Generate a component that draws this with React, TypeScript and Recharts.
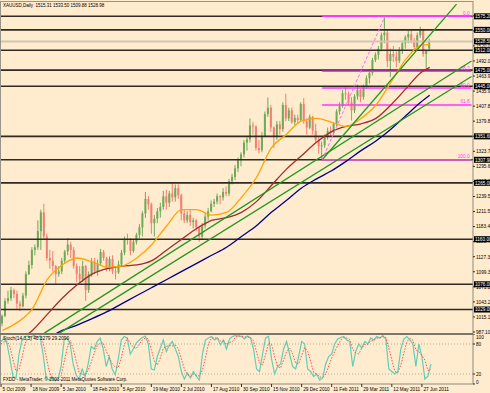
import React from 'react';
import { ComposedChart, Bar, Line, XAxis, YAxis, ReferenceLine } from 'recharts';

const candleOpen = [1003,1017,1045,1050,1065,1058,1040,1035,1055,1095,1112,1140,1145,1175,1210,1165,1125,1120,1110,1095,1100,1120,1137,1150,1140,1110,1095,1085,1110,1065,1095,1118,1100,1115,1136,1125,1105,1123,1100,1098,1113,1135,1160,1158,1138,1155,1168,1182,1208,1235,1225,1190,1198,1212,1220,1240,1228,1245,1238,1255,1242,1208,1195,1205,1192,1195,1182,1165,1185,1202,1212,1226,1230,1240,1238,1248,1245,1268,1276,1292,1308,1318,1340,1346,1372,1370,1330,1326,1352,1393,1405,1368,1350,1374,1365,1410,1385,1400,1378,1386,1382,1412,1380,1368,1388,1362,1345,1333,1335,1350,1362,1358,1375,1398,1408,1432,1430,1415,1400,1426,1438,1425,1445,1460,1470,1494,1504,1515,1540,1545,1492,1505,1500,1492,1512,1525,1536,1542,1530,1518,1540,1550,1505,1515.31];
const candleHigh = [1020,1050,1064,1071,1068,1064,1045,1060,1100,1120,1145,1150,1195,1215,1226,1170,1140,1138,1112,1110,1125,1140,1162,1155,1145,1115,1110,1120,1112,1100,1125,1125,1122,1142,1140,1127,1128,1130,1108,1120,1140,1165,1170,1162,1160,1172,1188,1212,1248,1240,1228,1205,1218,1228,1250,1252,1250,1265,1262,1262,1245,1215,1212,1215,1200,1198,1185,1190,1208,1218,1232,1235,1245,1242,1255,1258,1272,1282,1298,1312,1322,1345,1350,1385,1378,1372,1345,1360,1398,1424,1410,1370,1380,1380,1415,1431,1405,1405,1392,1392,1415,1423,1385,1392,1390,1375,1350,1342,1355,1368,1370,1378,1402,1415,1438,1445,1435,1425,1430,1448,1440,1448,1465,1476,1498,1508,1520,1545,1575,1550,1515,1520,1510,1518,1530,1540,1548,1550,1535,1545,1556,1552,1510,1533.5];
const candleLow = [998,1015,1040,1045,1050,1030,1026,1033,1050,1093,1105,1130,1140,1140,1160,1120,1105,1100,1075,1090,1095,1115,1130,1125,1105,1080,1075,1080,1045,1060,1090,1095,1092,1112,1120,1100,1100,1095,1085,1095,1110,1130,1150,1130,1135,1150,1162,1165,1200,1215,1170,1165,1190,1200,1215,1215,1220,1230,1230,1235,1195,1190,1190,1185,1180,1175,1155,1160,1180,1195,1210,1220,1225,1225,1232,1240,1240,1262,1270,1285,1296,1312,1325,1340,1355,1325,1320,1322,1350,1388,1360,1330,1345,1355,1360,1380,1380,1375,1372,1375,1380,1375,1355,1365,1355,1340,1320,1308,1330,1345,1352,1355,1370,1392,1405,1420,1410,1381,1395,1420,1415,1420,1440,1450,1465,1490,1495,1510,1525,1480,1462,1490,1480,1488,1505,1515,1525,1525,1510,1515,1535,1500,1478,1509.88];
const candleClose = [1017,1045,1050,1065,1058,1040,1035,1055,1095,1112,1140,1145,1175,1210,1165,1125,1120,1110,1095,1100,1120,1137,1150,1140,1110,1095,1085,1110,1065,1095,1118,1100,1115,1136,1125,1105,1123,1100,1098,1113,1135,1160,1158,1138,1155,1168,1182,1208,1235,1225,1190,1198,1212,1220,1240,1228,1245,1238,1255,1242,1208,1195,1205,1192,1195,1182,1165,1185,1202,1212,1226,1230,1240,1238,1248,1245,1268,1276,1292,1308,1318,1340,1346,1372,1370,1330,1326,1352,1393,1405,1368,1350,1374,1365,1410,1385,1400,1378,1386,1382,1412,1380,1368,1388,1362,1345,1333,1335,1350,1362,1358,1375,1398,1408,1432,1430,1415,1400,1426,1438,1425,1445,1460,1470,1494,1504,1515,1540,1545,1492,1505,1500,1492,1512,1525,1536,1542,1530,1518,1540,1550,1505,1512,1528.98];

const stochMain = [85,92,80,50,15,12,60,88,95,96,94,97,93,96,60,12,8,14,6,10,35,88,92,80,40,18,10,30,15,40,75,70,85,92,70,35,55,30,18,50,88,95,92,60,70,82,88,93,96,80,30,28,55,72,88,65,78,85,70,55,25,10,22,12,25,15,8,60,88,92,95,88,92,78,88,70,90,95,97,96,95,90,96,92,70,30,25,60,92,95,50,20,35,40,70,85,60,35,30,55,85,80,30,25,15,20,8,12,40,55,60,80,90,93,95,88,85,35,65,80,72,85,80,92,88,95,92,97,90,30,25,20,25,70,90,95,88,80,35,80,55,10,15,40.33];
const stochSignal = [80,85,86,74,48,26,29,53,81,93,95,96,95,95,83,56,27,11,9,10,17,44,72,87,71,46,23,19,18,28,43,62,77,82,82,66,53,40,34,33,52,78,92,82,74,71,80,88,92,90,69,46,38,52,72,75,77,76,78,70,50,30,19,15,20,17,16,28,52,80,92,92,92,86,86,79,83,85,94,96,96,94,94,93,86,64,42,38,59,82,79,55,35,32,48,65,72,60,42,40,57,73,65,45,23,20,14,13,20,36,52,65,77,88,93,92,89,69,62,60,72,79,79,86,87,92,92,95,93,72,48,25,23,38,62,85,91,88,68,65,57,48,27,29.21];

const orangeMA: [number, number][] = [[0,990],[5,1005],[10,1030],[15,1085],[20,1112],[25,1125],[30,1118],[35,1108],[40,1110],[45,1125],[50,1150],[55,1185],[60,1215],[65,1215],[70,1205],[75,1210],[80,1238],[85,1275],[90,1330],[95,1355],[100,1380],[105,1385],[110,1378],[115,1370],[120,1385],[125,1410],[130,1452],[135,1495],[140,1521],[143,1523]];
const brownMA: [number, number][] = [[0,955],[5,970],[10,990],[15,1020],[20,1050],[25,1075],[30,1095],[35,1105],[40,1110],[45,1112],[50,1120],[55,1140],[60,1160],[65,1180],[70,1195],[75,1200],[80,1210],[85,1230],[90,1260],[95,1290],[100,1315],[105,1340],[110,1360],[115,1370],[120,1375],[125,1385],[130,1410],[135,1440],[140,1470],[143,1480]];
const blueMA: [number, number][] = [[10,960],[15,975],[20,990],[25,1000],[30,1012],[35,1025],[40,1040],[45,1055],[50,1070],[55,1085],[60,1100],[65,1115],[70,1130],[75,1145],[80,1165],[85,1185],[90,1210],[95,1232],[100,1255],[105,1272],[110,1287],[115,1305],[120,1325],[125,1343],[130,1365],[135,1390],[140,1415],[143,1428]];

const dateLabels = ['5 Oct 2009','18 Nov 2009','5 Jan 2010','18 Feb 2010','5 Apr 2010','19 May 2010','2 Jul 2010','17 Aug 2010','30 Sep 2010','15 Nov 2010','29 Dec 2010','11 Feb 2011','29 Mar 2011','12 May 2011','27 Jun 2011'];
const priceTicks = [987.10,1015.15,1043.20,1071.25,1099.30,1127.35,1155.40,1183.45,1211.50,1239.55,1267.60,1295.65,1323.70,1351.75,1379.80,1407.85,1435.90,1463.95,1492.00,1520.05,1548.10,1576.15];
const levelLines = [1575.2,1550.0,1512.0,1475.0,1445.0,1351.6,1307.9,1265.0,1160.0,1076.0,1029.0];
const grayLevel = 1528.5;
const fibLevels: [string, number][] = [['0.0',1575.2],['38.2',1473.1],['50.0',1441.6],['61.8',1410.1],['100.0',1307.9]];
const trendLines: [number, number, number, number][] = [[107,1308,152,1598],[14,985,157,1492],[19,985,157,1463]];
const fibTrend: [number, number, number, number] = [107,1308,128,1575];

const TOTAL = 158;
const rows = Array.from({ length: TOTAL }, (_, k) => {
  const has = k < candleClose.length;
  const find = (arr: [number, number][]) => { const p = arr.find((a) => a[0] === k); return p ? p[1] : null; };
  return {
    k,
    hl: has ? [candleLow[k], candleHigh[k]] : null,
    o: has ? candleOpen[k] : null,
    c: has ? candleClose[k] : null,
    h: has ? candleHigh[k] : null,
    l: has ? candleLow[k] : null,
    orange: find(orangeMA),
    brown: find(brownMA),
    blue: find(blueMA),
    sm: has ? stochMain[k] : null,
    ss: has ? stochSignal[k] : null,
  };
});

const BG = '#ffebcd';
const FONT = '"Liberation Sans", Arial, sans-serif';
const FS = 4.7;
const UP = '#6fa95a';
const DOWN = '#f07f74';

const Candle = (props: any) => {
  const { x, y, width, height, payload } = props;
  if (!payload || payload.hl == null) return null;
  const top = Math.min(y, y + height);
  const h = Math.abs(height);
  const hi = payload.h, lo = payload.l;
  const py = (v: number) => top + ((hi - v) / (hi - lo || 1)) * h;
  const cx = x + width / 2;
  const up = payload.c >= payload.o;
  const col = up ? UP : DOWN;
  const b1 = py(Math.max(payload.o, payload.c));
  const b2 = py(Math.min(payload.o, payload.c));
  return (
    <g>
      <line x1={cx} x2={cx} y1={top} y2={top + h} stroke={col} strokeWidth={1} />
      <rect x={cx - 1} y={b1} width={2} height={Math.max(1, b2 - b1)} fill={col} />
    </g>
  );
};

const PriceTick = (props: any) => {
  const { x, y, payload } = props;
  const v = payload.value;
  const isLevel = levelLines.includes(v) || v === grayLevel;
  if (isLevel) {
    return (
      <g>
        <rect x={x + 1} y={y - 3} width={20} height={6} fill="#000" />
        <text x={x + 2} y={y + 1.8} fontSize={FS} fill="#fff" fontFamily={FONT}>{v.toFixed(2)}</text>
      </g>
    );
  }
  return (
    <g>
      <line x1={x} x2={x + 2} y1={y} y2={y} stroke="#000" strokeWidth={0.8} />
      <text x={x + 3} y={y + 1.8} fontSize={FS} fill="#000" fontFamily={FONT}>{v.toFixed(2)}</text>
    </g>
  );
};

const StochTick = (props: any) => {
  const { x, y, payload } = props;
  const yy = payload.value === 100 ? y + 3 : payload.value === 0 ? y - 2 : y;
  return (
    <g>
      <line x1={x} x2={x + 2} y1={y} y2={y} stroke="#000" strokeWidth={0.8} />
      <text x={x + 3} y={yy + 1.8} fontSize={FS} fill="#000" fontFamily={FONT}>{payload.value}</text>
    </g>
  );
};

const DateTick = (props: any) => {
  const { x, y, payload } = props;
  const idx = Math.round(payload.value / 10);
  return (
    <g>
      <line x1={x} x2={x} y1={y} y2={y + 3} stroke="#000" strokeWidth={0.8} />
      <text x={x + 1.5} y={y + 6.5} fontSize={FS} fill="#000" fontFamily={FONT}>{dateLabels[idx]}</text>
    </g>
  );
};

const FibLabel = (text: string) => (props: any) => {
  const vb = props.viewBox || {};
  const xr = (vb.x || 0) + (vb.width || 0);
  return (
    <text x={xr - 2} y={(vb.y || 0) - 1.5} fontSize={FS} fill="#ff40ff" textAnchor="end" fontFamily={FONT}>{text}</text>
  );
};

export default function App() {
  const yTicks = [...priceTicks, grayLevel, ...levelLines];
  return (
    <div style={{ position: 'absolute', left: 0, top: 0, width: 490, height: 393, background: BG, overflow: 'hidden', fontFamily: FONT }}>
      <div style={{ position: 'absolute', left: 0, top: 0 }}>
        <ComposedChart width={490} height={334} data={rows} margin={{ top: 1, right: 0, bottom: 0, left: 1 }}>
          <XAxis dataKey="k" type="category" hide />
          <YAxis orientation="right" width={17} domain={[983.37, 1603.75]} allowDataOverflow ticks={yTicks} interval={0} tick={<PriceTick />} tickLine={false} tickSize={0} tickMargin={0} axisLine={{ stroke: '#8f8a80' }} />
          {levelLines.map((v) => (
            <ReferenceLine key={'lv' + v} y={v} stroke="#2f2a24" strokeWidth={1.6} />
          ))}
          <ReferenceLine y={grayLevel} stroke="#cfc6b6" strokeWidth={2} />
          {fibLevels.map(([t, v]) => (
            <ReferenceLine key={'fb' + t} segment={[{ x: 107, y: v }, { x: 157, y: v }]} stroke="#ff33ff" strokeWidth={1.5} label={FibLabel(t)} />
          ))}
          <Bar dataKey="hl" barSize={2} shape={<Candle />} isAnimationActive={false} />
          <Line dataKey="blue" stroke="#00008b" strokeWidth={1.3} dot={false} connectNulls type="monotone" isAnimationActive={false} />
          <Line dataKey="brown" stroke="#a52a2a" strokeWidth={1.3} dot={false} connectNulls type="monotone" isAnimationActive={false} />
          <Line dataKey="orange" stroke="#ffa500" strokeWidth={1.3} dot={false} connectNulls type="monotone" isAnimationActive={false} />
          {trendLines.map(([x1, y1, x2, y2], i) => (
            <ReferenceLine key={'tl' + i} segment={[{ x: x1, y: y1 }, { x: x2, y: y2 }]} stroke="#1f9a1f" strokeWidth={1.3} ifOverflow="hidden" />
          ))}
          <ReferenceLine segment={[{ x: fibTrend[0], y: fibTrend[1] }, { x: fibTrend[2], y: fibTrend[3] }]} stroke="#ff66ff" strokeWidth={1} strokeDasharray="3 2" />
        </ComposedChart>
      </div>
      <div style={{ position: 'absolute', left: 0, top: 334 }}>
        <ComposedChart width={490} height={59} data={rows} margin={{ top: 0, right: 0, bottom: 0, left: 1 }}>
          <XAxis dataKey="k" type="category" height={9} ticks={dateLabels.map((_, i) => i * 10)} interval={0} tick={<DateTick />} tickLine={false} tickSize={0} tickMargin={0} axisLine={{ stroke: '#8f8a80' }} />
          <YAxis orientation="right" width={17} domain={[0, 100]} ticks={[0, 20, 80, 100]} interval={0} tick={<StochTick />} tickLine={false} tickSize={0} tickMargin={0} axisLine={{ stroke: '#8f8a80' }} />
          <ReferenceLine y={80} stroke="#b8ad9c" strokeDasharray="1 2" />
          <ReferenceLine y={20} stroke="#b8ad9c" strokeDasharray="1 2" />
          <Line dataKey="sm" stroke="#5fcfb5" strokeWidth={1.2} dot={false} type="linear" isAnimationActive={false} />
          <Line dataKey="ss" stroke="#ff5050" strokeWidth={1} strokeDasharray="1.5 1.5" dot={false} type="linear" isAnimationActive={false} />
        </ComposedChart>
      </div>
      <div style={{ position: 'absolute', left: 0, top: 1, width: 473, height: 383, borderTop: '1px solid #9a9488', borderLeft: '1px solid #9a9488', boxSizing: 'border-box', pointerEvents: 'none' }} />
      <div style={{ position: 'absolute', left: 0, top: 332.5, width: 473, height: 2, background: '#7d7468' }} />
      <div style={{ position: 'absolute', left: 3, top: 3, fontSize: 4.5, lineHeight: '5px', color: '#000', whiteSpace: 'nowrap' }}>XAUUSD,Daily&nbsp;&nbsp;1515.31 1533.50 1509.88 1528.98</div>
      <div style={{ position: 'absolute', left: 3, top: 336, fontSize: 4.8, lineHeight: '5px', color: '#000', whiteSpace: 'nowrap' }}>Stoch(14,3,3) 40.3279 29.2090</div>
      <div style={{ position: 'absolute', left: 3, top: 377, fontSize: 4.5, lineHeight: '5px', color: '#000', whiteSpace: 'nowrap' }}>FXDD - MetaTrader, © 2001-2011 MetaQuotes Software Corp.</div>
    </div>
  );
}
